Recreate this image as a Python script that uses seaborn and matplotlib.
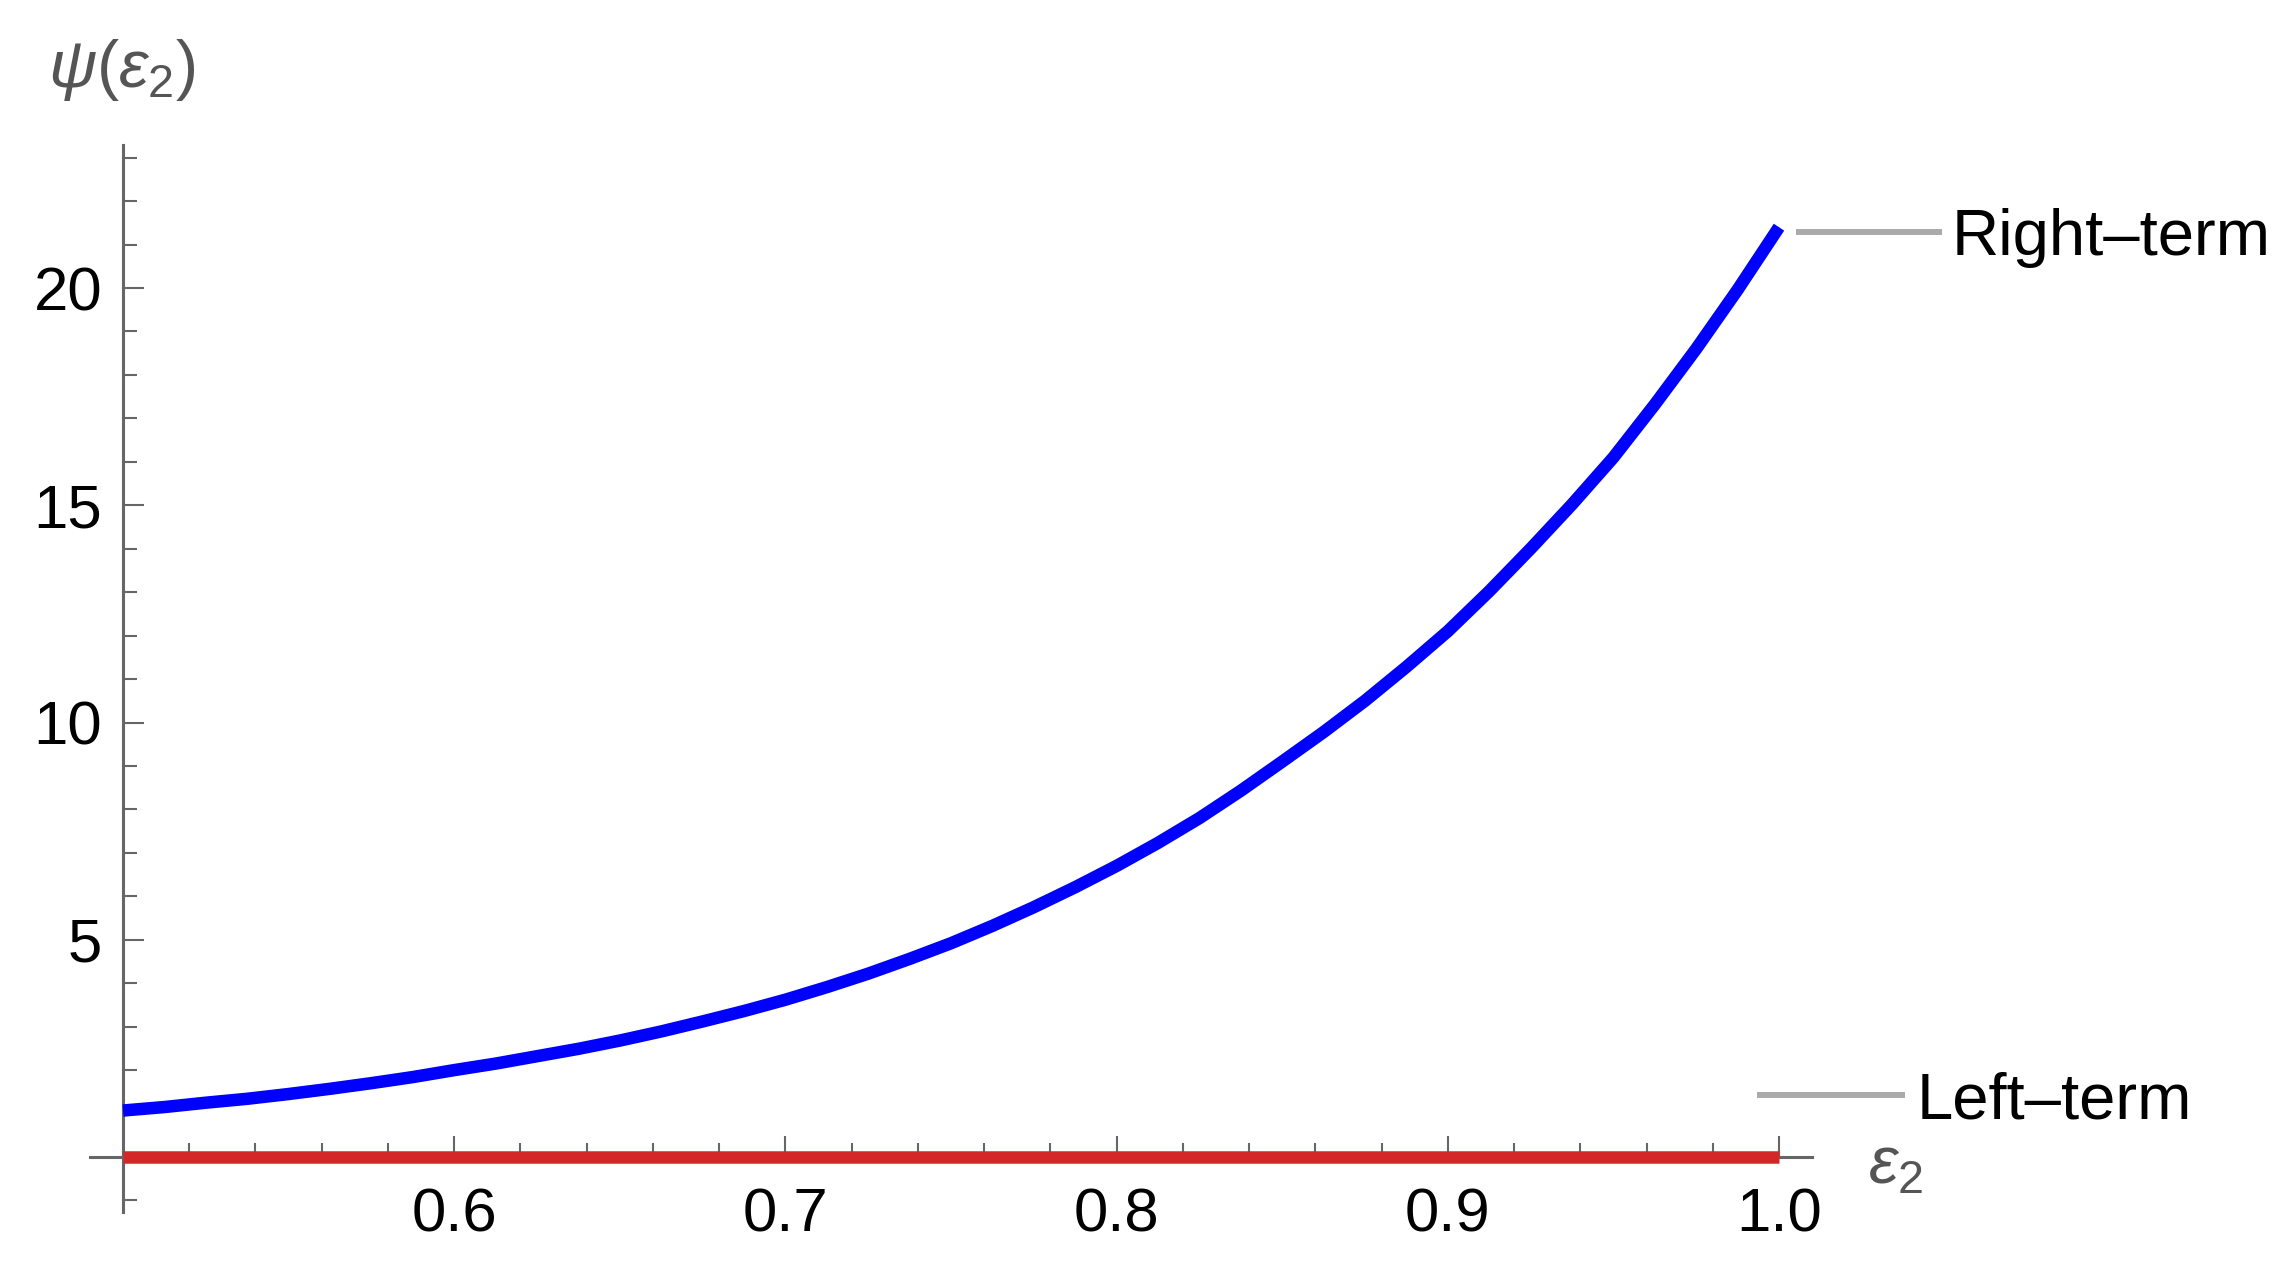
import numpy as np
import pandas as pd
import matplotlib
matplotlib.use("Agg")
import matplotlib.pyplot as plt
import matplotlib.transforms as mtrans
from matplotlib.ticker import FixedLocator
import seaborn as sns

# ---- data ----
eps2 = [0.5000, 0.5125, 0.5250, 0.5375, 0.5500, 0.5625, 0.5750, 0.5875, 0.6000,
        0.6125, 0.6250, 0.6375, 0.6500, 0.6625, 0.6750, 0.6875, 0.7000, 0.7125,
        0.7250, 0.7375, 0.7500, 0.7625, 0.7750, 0.7875, 0.8000, 0.8125, 0.8250,
        0.8375, 0.8500, 0.8625, 0.8750, 0.8875, 0.9000, 0.9125, 0.9250, 0.9375,
        0.9500, 0.9625, 0.9750, 0.9875, 1.0000]
right_term = [1.07, 1.15, 1.25, 1.34, 1.45, 1.57, 1.70, 1.84, 2.00,
              2.15, 2.32, 2.49, 2.68, 2.89, 3.12, 3.36, 3.62, 3.91,
              4.22, 4.56, 4.92, 5.32, 5.75, 6.21, 6.70, 7.23, 7.80,
              8.43, 9.10, 9.78, 10.50, 11.28, 12.10, 13.02, 14.00, 15.02,
              16.10, 17.32, 18.60, 19.96, 21.40]
left_term = [0.0, 0.0, 0.0, 0.0, 0.0, 0.0, 0.0, 0.0, 0.0,
             0.0, 0.0, 0.0, 0.0, 0.0, 0.0, 0.0, 0.0, 0.0,
             0.0, 0.0, 0.0, 0.0, 0.0, 0.0, 0.0, 0.0, 0.0,
             0.0, 0.0, 0.0, 0.0, 0.0, 0.0, 0.0, 0.0, 0.0,
             0.0, 0.0, 0.0, 0.0, 0.0]
series_names = ["Right\u2013term", "Left\u2013term"]
x_major = [0.6, 0.7, 0.8, 0.9, 1.0]
x_labels = ["0.6", "0.7", "0.8", "0.9", "1.0"]
y_major = [5, 10, 15, 20]
y_labels = ["5", "10", "15", "20"]

df = pd.DataFrame({
    "eps2": eps2 + eps2,
    "value": right_term + left_term,
    "term": [series_names[0]] * len(eps2) + [series_names[1]] * len(eps2),
})

sns.set_theme(style="ticks")
plt.rcParams["font.family"] = ["Liberation Sans", "DejaVu Sans"]
plt.rcParams["mathtext.fontset"] = "custom"
plt.rcParams["mathtext.rm"] = "Liberation Sans"
plt.rcParams["mathtext.it"] = "Liberation Sans:italic"

fig = plt.figure(figsize=(22.96, 12.67), dpi=100)
ax = fig.add_axes([0.03915, 0.04325, 0.7501, 0.8426])

sns.lineplot(data=df, x="eps2", y="value", hue="term",
             palette={series_names[0]: "#0000ff", series_names[1]: "#d42828"},
             linewidth=9, legend=False, ax=ax, solid_capstyle="butt",
             solid_joinstyle="round")

ax.set_xlim(0.49, 1.01)
ax.set_ylim(-1.27, 23.3)

axis_col = "#666666"
for s in ["top", "right"]:
    ax.spines[s].set_visible(False)
ax.spines["left"].set_position(("data", 0.5))
ax.spines["bottom"].set_position(("data", 0))
for s in ["left", "bottom"]:
    ax.spines[s].set_color(axis_col)
    ax.spines[s].set_linewidth(2.2)
    ax.spines[s].set_zorder(1)

ax.xaxis.set_major_locator(FixedLocator(x_major))
ax.set_xticklabels(x_labels)
ax.yaxis.set_major_locator(FixedLocator(y_major))
ax.set_yticklabels(y_labels)
xminor = [v for v in np.round(np.arange(0.52, 0.999, 0.02), 2) if v not in x_major]
yminor = [v for v in range(-1, 24) if v not in y_major and v != 0]
ax.xaxis.set_minor_locator(FixedLocator(xminor))
ax.yaxis.set_minor_locator(FixedLocator(yminor))

ax.tick_params(bottom=True, left=True, top=False, right=False, which="both")
ax.tick_params(which="major", direction="in", length=15, width=1.5, color=axis_col,
               labelsize=44.5, labelcolor="black")
ax.tick_params(which="minor", direction="in", length=10, width=1.5, color=axis_col)
ax.tick_params(axis="y", which="major", pad=15)
ax.tick_params(axis="x", which="major", pad=22)
ax.set_xlabel("")
ax.set_ylabel("")
ax.grid(False)

# axis labels (Mathematica style)
fig.text(0.0531, 0.9448, r"$\psi(\varepsilon_2)$", color="#555555", fontsize=48,
         ha="center", va="center")
fig.text(0.8254, 0.0797, r"$\varepsilon_2$", color="#555555", fontsize=48,
         ha="center", va="center")

# callout labels anchored at the curve end points
def anchored(x, y):
    return fig.dpi_scale_trans + mtrans.ScaledTranslation(x, y, ax.transData)

tr_r = anchored(eps2[-1], right_term[-1])
ax.plot([0.17, 1.63], [-0.045, -0.045], transform=tr_r, color="#aaaaaa", lw=4.3,
        clip_on=False, solid_capstyle="butt")
ax.text(1.73, -0.045 - 0.23, series_names[0], transform=tr_r, fontsize=47, color="black",
        ha="left", va="baseline", clip_on=False)

tr_l = anchored(eps2[-1], left_term[-1])
ax.plot([-0.22, 1.26], [0.62, 0.62], transform=tr_l, color="#aaaaaa", lw=4.3,
        clip_on=False, solid_capstyle="butt")
ax.text(1.38, 0.62 - 0.23, series_names[1], transform=tr_l, fontsize=47, color="black",
        ha="left", va="baseline", clip_on=False)

fig.savefig("out.png", dpi=100)
